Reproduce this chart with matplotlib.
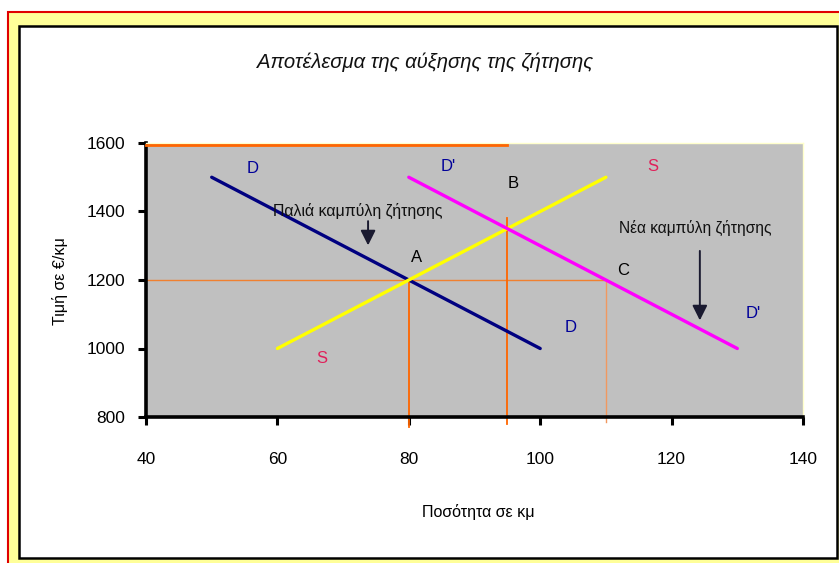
import matplotlib
matplotlib.use("Agg")
import matplotlib.pyplot as plt
from matplotlib.patches import Rectangle

plt.rcParams['font.family'] = ['Liberation Sans', 'DejaVu Sans']

# Demand / supply schedules (quantity, price)
old_demand_q = [50, 100]
old_demand_p = [1500, 1000]
new_demand_q = [80, 130]
new_demand_p = [1500, 1000]
supply_q = [60, 110]
supply_p = [1000, 1500]

# Equilibrium points
point_A = (80, 1200)
point_B = (95, 1350)
point_C = (110, 1200)

x_ticks = [40, 60, 80, 100, 120, 140]
y_ticks = [800, 1000, 1200, 1400, 1600]

title = "Αποτέλεσμα της αύξησης της ζήτησης"
x_label = "Ποσότητα σε κμ"
y_label = "Τιμή σε €/κμ"
old_curve_note = "Παλιά καμπύλη ζήτησης"
new_curve_note = "Νέα καμπύλη ζήτησης"

W, H = 839, 563
fig = plt.figure(figsize=(W / 100, H / 100), dpi=100, facecolor="white")

# Outer frame: red border, pale yellow fill, white inner panel with black border
fig.patches.append(Rectangle((8 / W, -0.02), 1.05, 1 - 12 / H + 0.02,
                             transform=fig.transFigure, facecolor="#ffff99",
                             edgecolor="#e00000", linewidth=1.5, zorder=-2))
fig.patches.append(Rectangle((19 / W, 1 - 558 / H), (837 - 19) / W, (558 - 26) / H,
                             transform=fig.transFigure, facecolor="white",
                             edgecolor="black", linewidth=1.8, zorder=-1))

ax = fig.add_axes([146 / W, 1 - 417 / H, (803 - 146) / W, (417 - 143) / H])
ax.set_zorder(1)
ax.set_facecolor("#c0c0c0")
ax.set_xlim(40, 140)
ax.set_ylim(800, 1600)

# Guide lines for the equilibria
ax.plot([40, point_B[0]], [1595, 1595], color="#ff6600", lw=2.0, zorder=4, clip_on=False)
ax.plot([40, point_C[0]], [point_A[1], point_C[1]], color="#f08030", lw=1.0, zorder=2)
ax.plot([point_A[0], point_A[0]], [770, point_A[1]], color="#ff6600", lw=1.3, zorder=2, clip_on=False)
ax.plot([point_B[0], point_B[0]], [780, 1380], color="#ff6600", lw=1.3, zorder=2, clip_on=False)
ax.plot([point_C[0], point_C[0]], [785, point_C[1]], color="#f09860", lw=1.0, zorder=2, clip_on=False)

# Curves
ax.plot(old_demand_q, old_demand_p, color="#000080", lw=2.4, solid_capstyle="round", zorder=3)
ax.plot(supply_q, supply_p, color="#ffff00", lw=2.4, solid_capstyle="round", zorder=3)
ax.plot(new_demand_q, new_demand_p, color="#ff00ff", lw=2.4, solid_capstyle="round", zorder=3)

# Curve and point labels
blue = "#000099"
red = "#e0205a"
fs = 12
ax.text(56.3, 1527, "D", color=blue, fontsize=fs, ha="center", va="center")
ax.text(86.0, 1530, "D'", color=blue, fontsize=fs, ha="center", va="center")
ax.text(95.9, 1483, "B", color="black", fontsize=fs, ha="center", va="center")
ax.text(117.2, 1530, "S", color=red, fontsize=fs, ha="center", va="center")
ax.text(81.2, 1267, "A", color="black", fontsize=fs, ha="center", va="center")
ax.text(112.6, 1229, "C", color="black", fontsize=fs, ha="center", va="center")
ax.text(132.4, 1101, "D'", color=blue, fontsize=fs, ha="center", va="center")
ax.text(104.7, 1060, "D", color=blue, fontsize=fs, ha="center", va="center")
ax.text(66.8, 972, "S", color=red, fontsize=fs, ha="center", va="center")

ax.text(72.2, 1401, old_curve_note, fontsize=11.4, ha="center", va="center", color="#101010")
ax.text(123.6, 1352, new_curve_note, fontsize=11.2, ha="center", va="center", color="#101010")

arrow_kw = dict(arrowstyle="-|>,head_length=0.9,head_width=0.45", color="#1a1a30", lw=1.4)
ax.annotate("", xy=(73.8, 1293), xytext=(73.8, 1380), arrowprops=arrow_kw, zorder=4)
ax.annotate("", xy=(124.3, 1074), xytext=(124.3, 1293), arrowprops=arrow_kw, zorder=4)

# Axes styling
ax.set_xticks(x_ticks)
ax.set_yticks(y_ticks)
ax.tick_params(axis="both", direction="out", length=6, width=2.2, color="black",
               labelsize=12.5)
ax.tick_params(axis="x", pad=19)
ax.tick_params(axis="y", pad=9)
for side in ("left", "bottom"):
    ax.spines[side].set_linewidth(2.6)
    ax.spines[side].set_color("black")
for side in ("top", "right"):
    ax.spines[side].set_linewidth(1.0)
    ax.spines[side].set_color("#ffffcc")

fig.text(425 / W, 1 - 62 / H, title, fontsize=14.6, style="italic",
         ha="center", va="center", color="#111111")
fig.text(478 / W, 1 - 512 / H, x_label, fontsize=11.5, ha="center", va="center")
fig.text(60 / W, 1 - 281 / H, y_label, fontsize=11.5, ha="center", va="center",
         rotation=90)

fig.savefig("out.png", dpi=100, facecolor=fig.get_facecolor())
